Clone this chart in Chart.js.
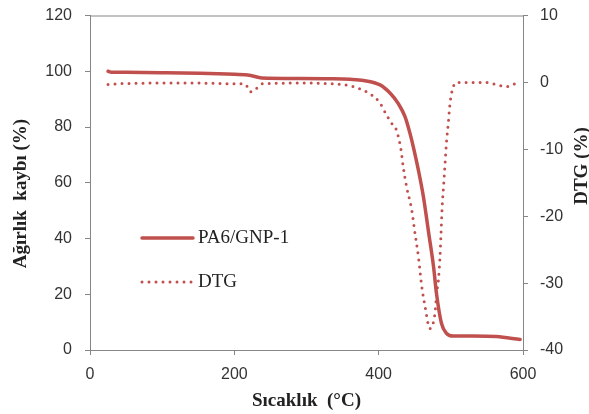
<!DOCTYPE html>
<html>
<head>
<meta charset="utf-8">
<script src="https://cdn.jsdelivr.net/npm/chart.js@4"></script>
<style>
  html, body { margin: 0; padding: 0; background: #fff; }
  #wrap { width: 589px; height: 414px; }
</style>
</head>
<body>
<div id="wrap"><canvas id="c" width="589" height="414"></canvas></div>
<script>
// values
const tgTemp = [25, 30, 50, 100, 152, 200, 221, 238, 291, 333, 360, 379, 402, 416, 427, 436.5, 443.4, 448, 455, 462, 469, 476, 480, 487, 494, 503, 531, 563, 596];
const tgMass = [100, 99.6, 99.6, 99.5, 99.3, 98.9, 98.6, 97.6, 97.4, 97.3, 97.1, 96.7, 95.1, 92.1, 88.5, 83.7, 77.7, 72.9, 64.6, 55, 42.5, 30, 20.5, 9.6, 6.0, 5.0, 5.0, 4.8, 3.8];

const dtgTemp = [25, 40, 100, 150, 200, 215, 222.6, 229.5, 238.8, 300, 333, 360, 379, 388, 402, 411, 418, 424.5, 431, 434, 438.7, 445.7, 450.4, 455, 459.7, 464.3, 471, 478, 480.4, 482.8, 485, 486.4, 487.8, 490.5, 492.3, 494.2, 496.5, 498, 500.5, 508, 547, 570, 579, 591];
const dtgVal = [-0.3, -0.2, -0.1, -0.1, -0.2, -0.25, -1.4, -1.0, -0.2, -0.1, -0.2, -0.5, -1.2, -1.7, -3.1, -4.9, -6.1, -7.1, -10.1, -12.6, -15.6, -19, -22.6, -26, -30.5, -33.5, -36.8, -34.5, -31.5, -29.5, -26, -22.6, -19, -14.6, -11.6, -8.6, -6.1, -4.1, -1.9, 0, 0, -0.5, -0.6, -0.1];

const xTicks = [0, 200, 400, 600];
const red = '#C0504D';
const axisGray = '#868686';

const tickFont = { family: 'Liberation Sans', size: 16 };
const titleFont = { family: 'Liberation Serif', size: 19, weight: 'bold' };

function vTitle(ctx, text, x, y) {
  ctx.save();
  ctx.translate(x, y);
  ctx.rotate(-Math.PI / 2);
  ctx.fillText(text, 0, 0);
  ctx.restore();
}

const extras = {
  id: 'extras',
  afterDraw(chart) {
    const ctx = chart.ctx;
    const a = chart.chartArea;
    ctx.save();
    // top border of plot
    ctx.strokeStyle = axisGray;
    ctx.lineWidth = 1;
    ctx.beginPath();
    ctx.moveTo(a.left, a.top + 0.5);
    ctx.lineTo(a.right, a.top + 0.5);
    ctx.stroke();

    // legend inside plot
    ctx.strokeStyle = red;
    ctx.lineCap = 'round';
    ctx.lineWidth = 3.5;
    ctx.setLineDash([]);
    ctx.beginPath();
    ctx.moveTo(a.left + 52, 238);
    ctx.lineTo(a.left + 103, 238);
    ctx.stroke();
    ctx.lineWidth = 3;
    ctx.setLineDash([0, 7]);
    ctx.beginPath();
    ctx.moveTo(a.left + 52, 282);
    ctx.lineTo(a.left + 102, 282);
    ctx.stroke();
    ctx.setLineDash([]);
    ctx.fillStyle = '#222';
    ctx.font = '19px "Liberation Serif"';
    ctx.textBaseline = 'middle';
    ctx.textAlign = 'left';
    ctx.fillText('PA6/GNP-1', a.left + 108, 238);
    ctx.fillText('DTG', a.left + 108, 282);

    // axis titles for both y axes, reading bottom to top
    ctx.font = 'bold 19px "Liberation Serif"';
    ctx.textAlign = 'center';
    vTitle(ctx, 'Ağırlık  kaybı (%)', 21, 193.5);
    vTitle(ctx, 'DTG (%)', 582, 166);
    ctx.restore();
  }
};

new Chart(document.getElementById('c'), {
  type: 'line',
  data: {
    datasets: [
      {
        label: 'PA6/GNP-1',
        data: tgTemp.map((t, i) => ({ x: t, y: tgMass[i] })),
        yAxisID: 'y',
        borderColor: red,
        borderWidth: 3.5,
        pointRadius: 0,
        cubicInterpolationMode: 'monotone',
        borderCapStyle: 'round'
      },
      {
        label: 'DTG',
        data: dtgTemp.map((t, i) => ({ x: t, y: dtgVal[i] })),
        yAxisID: 'y1',
        borderColor: red,
        borderWidth: 3,
        borderDash: [0, 7],
        borderCapStyle: 'round',
        pointRadius: 0,
        cubicInterpolationMode: 'monotone'
      }
    ]
  },
  options: {
    responsive: false,
    animation: false,
    layout: { padding: { top: 15.5, left: 0, right: 0, bottom: 0 } },
    plugins: {
      legend: { display: false },
      tooltip: { enabled: false }
    },
    scales: {
      x: {
        type: 'linear',
        min: 0,
        max: 600,
        afterBuildTicks: (s) => { s.ticks = xTicks.map((v) => ({ value: v })); },
        afterFit: (s) => { s.height = 64; s.paddingLeft = 0; s.paddingRight = 0; },
        border: { color: axisGray },
        grid: { drawOnChartArea: false, color: axisGray, tickLength: 5 },
        ticks: { font: tickFont, color: '#333', padding: 10, maxRotation: 0 },
        title: { display: true, text: 'Sıcaklık  (°C)', font: titleFont, color: '#222', padding: { top: 0, bottom: 1.5 } }
      },
      y: {
        position: 'left',
        min: 0,
        max: 120,
        ticks: { stepSize: 20, font: tickFont, color: '#333', padding: 13 },
        afterFit: (s) => { s.width = 90; s.paddingTop = 0; s.paddingBottom = 0; },
        border: { color: axisGray },
        grid: { drawOnChartArea: false, color: axisGray, tickLength: 5 }
      },
      y1: {
        position: 'right',
        min: -40,
        max: 10,
        ticks: { stepSize: 10, font: tickFont, color: '#333', padding: 12 },
        afterFit: (s) => { s.width = 66; s.paddingTop = 0; s.paddingBottom = 0; },
        border: { color: axisGray },
        grid: { drawOnChartArea: false, color: axisGray, tickLength: 5 }
      }
    }
  },
  plugins: [extras]
});
</script>
</body>
</html>
